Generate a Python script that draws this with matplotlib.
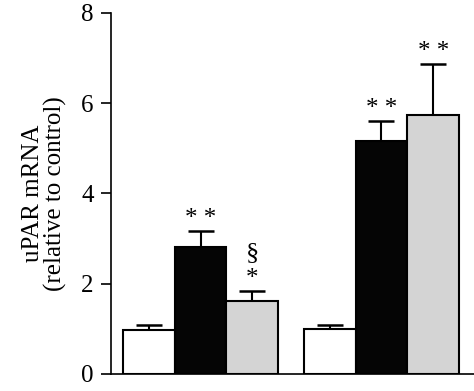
import numpy as np
import matplotlib
matplotlib.use('Agg')
import matplotlib.pyplot as plt

plt.rcParams['font.family'] = ['Liberation Serif', 'DejaVu Serif']

# bar values (relative to control) and upper error
pos = [0, 1, 2, 3.5, 4.5, 5.5]
vals = [0.98, 2.82, 1.61, 0.99, 5.16, 5.74]
errs = [0.10, 0.34, 0.22, 0.10, 0.45, 1.13]
colors = ['white', '#050505', '#d4d4d4', 'white', '#050505', '#d4d4d4']
marks = ['', '* *', '*', '', '* *', '* *']

fig = plt.figure(figsize=(4.74, 3.91), dpi=100)
ax = fig.add_axes([0.234, 0.0435, 0.766, 0.9235])

ax.bar(pos, vals, width=1.0, color=colors, edgecolor='black', linewidth=1.5, zorder=2)
ax.errorbar(pos, vals, yerr=[np.zeros(len(vals)), errs], fmt='none', ecolor='black',
            elinewidth=1.5, capsize=9.5, capthick=1.8, zorder=1)

for x, v, e, m in zip(pos, vals, errs, marks):
    if m:
        ax.text(x, v + e + 0.02, m, ha='center', va='bottom', fontsize=18)
ax.text(pos[2], vals[2] + errs[2] + 0.6, '§', ha='center', va='bottom', fontsize=19)

ax.set_xlim(-0.735, 6.29)
ax.set_ylim(0, 8)
ax.set_yticks([0, 2, 4, 6, 8])
ax.set_xticks([])
ax.tick_params(axis='y', direction='out', length=7.5, width=1.2, labelsize=18, pad=5)
ax.spines['top'].set_visible(False)
ax.spines['right'].set_visible(False)
ax.spines['left'].set_linewidth(1.2)
ax.spines['bottom'].set_linewidth(1.2)
ax.set_ylabel('uPAR mRNA\n(relative to control)', fontsize=18, labelpad=10, linespacing=1.0)

fig.savefig('out.png', dpi=100)
